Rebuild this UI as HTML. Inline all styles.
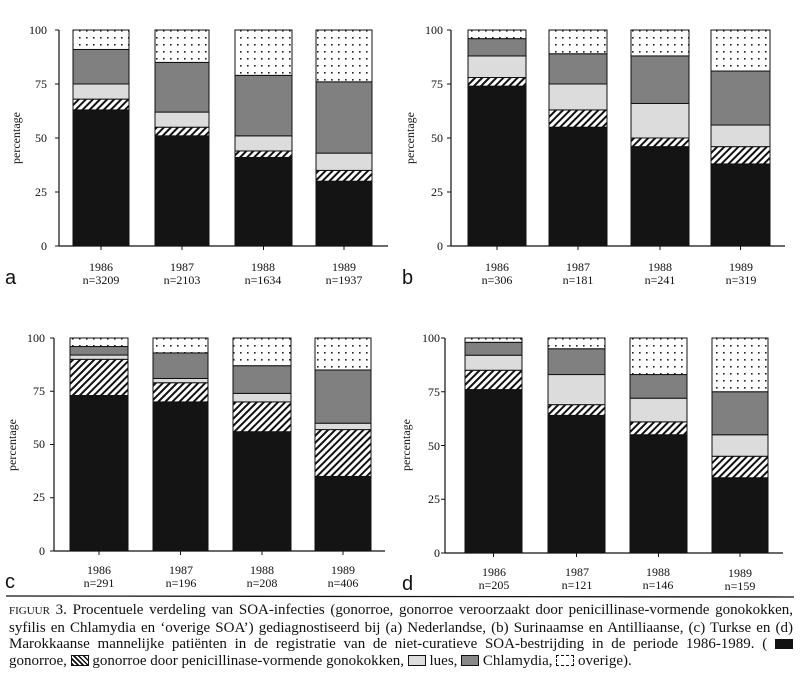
<!DOCTYPE html>
<html><head><meta charset="utf-8"><style>
body{margin:0;background:#fff;width:800px;height:677px;overflow:hidden}
svg{position:absolute;left:0;top:0}
text{font-family:"Liberation Serif",serif;fill:#111}
.cap{position:absolute;left:9px;top:602px;width:784px;font-family:"Liberation Serif",serif;font-size:15px;line-height:16.6px;color:#111}
.cap div{text-align:justify;text-align-last:justify;white-space:nowrap;overflow:visible}
.cap div.l{text-align-last:left}
.sw{display:inline-block;width:18px;height:10px;vertical-align:-1px}
</style></head><body>
<svg id="s" width="800" height="677" viewBox="0 0 800 677">
<defs>
<pattern id="hatch" width="5" height="5" patternUnits="userSpaceOnUse" patternTransform="rotate(45)"><rect width="5" height="5" fill="#fff"/><rect width="2" height="5" fill="#111"/></pattern>
<pattern id="dots" width="7" height="7" patternUnits="userSpaceOnUse"><rect width="7" height="7" fill="#fff"/><rect x="2" y="2" width="1.6" height="1.6" fill="#222"/></pattern>
</defs>
<g id="g"></g>
<g font-size="12">
<text x="20" y="138" transform="rotate(-90 20 138)" text-anchor="middle">percentage</text>
<text x="414" y="138" transform="rotate(-90 414 138)" text-anchor="middle">percentage</text>
<text x="16" y="445" transform="rotate(-90 16 445)" text-anchor="middle">percentage</text>
<text x="410" y="445" transform="rotate(-90 410 445)" text-anchor="middle">percentage</text>
<g text-anchor="end">
<text x="47" y="34">100</text><text x="47" y="88">75</text><text x="47" y="142">50</text><text x="47" y="196">25</text><text x="47" y="250">0</text>
<text x="443" y="34">100</text><text x="443" y="88">75</text><text x="443" y="142">50</text><text x="443" y="196">25</text><text x="443" y="250">0</text>
<text x="45" y="342">100</text><text x="45" y="395">75</text><text x="45" y="448">50</text><text x="45" y="501">25</text><text x="45" y="555">0</text>
<text x="440" y="342">100</text><text x="440" y="396">75</text><text x="440" y="450">50</text><text x="440" y="503">25</text><text x="440" y="557">0</text>
</g>
<g text-anchor="middle">
<text x="101" y="271">1986</text><text x="101" y="284">n=3209</text>
<text x="182" y="271">1987</text><text x="182" y="284">n=2103</text>
<text x="263" y="271">1988</text><text x="263" y="284">n=1634</text>
<text x="344" y="271">1989</text><text x="344" y="284">n=1937</text>
<text x="497" y="271">1986</text><text x="497" y="284">n=306</text>
<text x="578" y="271">1987</text><text x="578" y="284">n=181</text>
<text x="660" y="271">1988</text><text x="660" y="284">n=241</text>
<text x="741" y="271">1989</text><text x="741" y="284">n=319</text>
<text x="99" y="574">1986</text><text x="99" y="587">n=291</text>
<text x="181" y="574">1987</text><text x="181" y="587">n=196</text>
<text x="262" y="574">1988</text><text x="262" y="587">n=208</text>
<text x="343" y="574">1989</text><text x="343" y="587">n=406</text>
<text x="494" y="576">1986</text><text x="494" y="589">n=205</text>
<text x="577" y="576">1987</text><text x="577" y="589">n=121</text>
<text x="658" y="576">1988</text><text x="658" y="589">n=146</text>
<text x="740" y="577">1989</text><text x="740" y="590">n=159</text>
</g>
</g>
<g font-size="20">
<text x="5" y="284" style="font-family:'Liberation Sans',sans-serif">a</text>
<text x="402" y="284" style="font-family:'Liberation Sans',sans-serif">b</text>
<text x="5" y="588" style="font-family:'Liberation Sans',sans-serif">c</text>
<text x="402" y="590" style="font-family:'Liberation Sans',sans-serif">d</text>
</g>
<line x1="6" y1="596" x2="794" y2="597" stroke="#111" stroke-width="1.3"/>
</svg>
<div class="cap">
<div><span style="font-size:11px">FIGUUR</span> 3. Procentuele verdeling van SOA-infecties (gonorroe, gonorroe veroorzaakt door penicillinase-vormende gonokokken,</div>
<div>syfilis en Chlamydia en ‘overige SOA’) gediagnostiseerd bij (a) Nederlandse, (b) Surinaamse en Antilliaanse, (c) Turkse en (d)</div>
<div>Marokkaanse mannelijke patiënten in de registratie van de niet-curatieve SOA-bestrijding in de periode 1986-1989. ( <span class="sw" style="background:#111"></span></div>
<div class="l">gonorroe, <span class="sw" style="border:1px solid #111;width:16px;height:9px;background:repeating-linear-gradient(45deg,#111 0 1.5px,#fff 1.5px 3.5px)"></span> gonorroe door penicillinase-vormende gonokokken, <span class="sw" style="border:1px solid #111;width:16px;height:9px;background:#ddd"></span> lues, <span class="sw" style="border:1px solid #111;width:16px;height:9px;background:#888"></span> Chlamydia, <span class="sw" style="border:1px dashed #111;width:16px;height:9px;background:#fff"></span> overige).</div>
</div>
<script>
var P=[
{ax:59,y100:30,y0:246,xe:388,bars:[[73,129],[155,209],[235,292],[316,372]],v:[[63,68,75,91],[51,55,62,85],[41,44,51,79],[30,35,43,76]]},
{ax:451,y100:30,y0:246,xe:785,bars:[[468,526],[549,607],[631,689],[711,770]],v:[[74,78,88,96],[55,63,75,89],[46,50,66,88],[38,46,56,81]]},
{ax:54,y100:338,y0:551,xe:385,bars:[[70,128],[153,208],[233,291],[315,371]],v:[[73,90,92,96],[70,79,81,93],[56,70,74,87],[35,57,60,85]]},
{ax:445,y100:338,y0:553,xe:783,bars:[[465,522],[548,605],[630,687],[712,768]],v:[[76,85,92,98],[64,69,83,95],[55,61,72,83],[35,45,55,75]]}];
var F=["#141414","url(#hatch)","#dcdcdc","#808080","url(#dots)"],h="";
P.forEach(function(p){
 var sc=(p.y0-p.y100)/100;
 h+='<line x1="'+p.ax+'" y1="'+p.y100+'" x2="'+p.ax+'" y2="'+p.y0+'" stroke="#111" stroke-width="1.2"/>';
 h+='<line x1="'+p.ax+'" y1="'+p.y0+'" x2="'+p.xe+'" y2="'+p.y0+'" stroke="#111" stroke-width="1.2"/>';
 for(var t=0;t<=4;t++){var y=p.y0-t*25*sc;h+='<line x1="'+(p.ax-4)+'" y1="'+y+'" x2="'+p.ax+'" y2="'+y+'" stroke="#111"/>';}
 p.bars.forEach(function(b,i){
  var cut=[0].concat(p.v[i]).concat([100]);
  for(var k=0;k<5;k++){var y1=p.y0-cut[k+1]*sc,y2=p.y0-cut[k]*sc;
   h+='<rect x="'+b[0]+'" y="'+y1+'" width="'+(b[1]-b[0])+'" height="'+(y2-y1)+'" fill="'+F[k]+'" stroke="#111" stroke-width="1"/>';}
  var cx=(b[0]+b[1])/2;h+='<line x1="'+cx+'" y1="'+p.y0+'" x2="'+cx+'" y2="'+(p.y0+4)+'" stroke="#111"/>';
 });
});
document.getElementById("g").innerHTML=h;
</script>
</body></html>
